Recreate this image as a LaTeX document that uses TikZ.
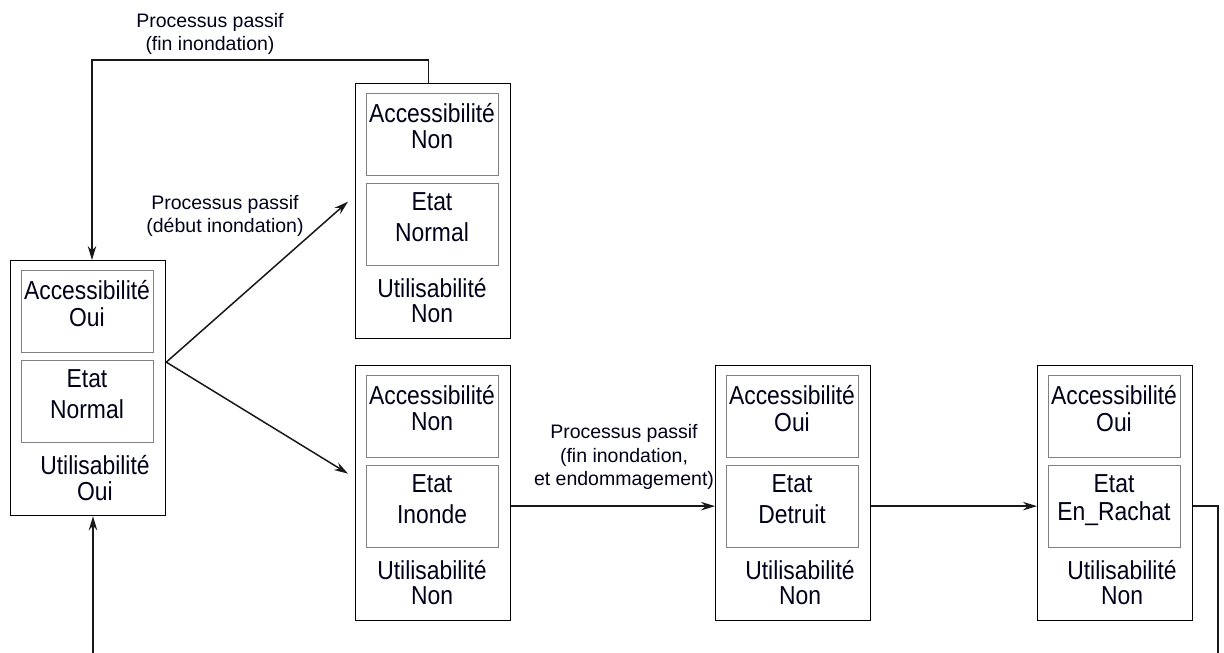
\documentclass[tikz,border=0pt]{standalone}
\usepackage{fontspec}
\setmainfont{Liberation Sans}
\newfontfamily\boxfont{Liberation Sans}[FakeStretch=0.88]
\usetikzlibrary{arrows.meta}

\tikzset{
  outerbox/.style={draw=black, line width=1.3pt, minimum width=155pt, minimum height=255pt, inner sep=0pt, anchor=north west},
  innerbox/.style={draw=black!50, line width=1.4pt, minimum width=132pt, minimum height=82pt, inner sep=0pt, anchor=north west},
  boxtext/.style={font=\boxfont\fontsize{26}{30}\selectfont, text=black!90!blue, inner sep=0pt},
  lbl/.style={font=\fontsize{19.5}{23.5}\selectfont, text=black!90!blue, align=center, inner sep=0pt},
  conn/.style={line width=1.5pt, draw=black!90},
  arr/.style={conn, -{Stealth[length=14pt,width=8.5pt]}}
}

% one state: #1 name, #2 x, #3 y (top-left), #4 accessibility, #5 state,
% #6 usability, #7 horizontal position of the usability lines
\newcommand\statebox[7]{%
  \node[outerbox] (#1) at (#2,#3) {};
  \node[innerbox] (#1acc) at ([xshift=11pt,yshift=-10pt]#1.north west) {};
  \node[innerbox] (#1eta) at ([xshift=11pt,yshift=-100pt]#1.north west) {};
  \node[boxtext] (#1acct) at ([xshift=77pt,yshift=-30pt]#1.north west) {Accessibilité};
  \node[boxtext] (#1accv) at ([xshift=77pt,yshift=-57pt]#1.north west) {#4};
  \node[boxtext] (#1etat) at ([xshift=77pt,yshift=-119pt]#1.north west) {Etat};
  \node[boxtext] (#1etav) at ([xshift=77pt,yshift=-149pt]#1.north west) {#5};
  \node[boxtext] (#1utit) at ([xshift=#7pt,yshift=-205pt]#1.north west) {Utilisabilité};
  \node[boxtext] (#1utiv) at ([xshift=#7pt,yshift=-231pt]#1.north west) {#6};
}

\begin{document}
\begin{tikzpicture}[x=1pt,y=-1pt]
  \useasboundingbox (0,0) rectangle (1224,653);

  \statebox{A}{10}{260}{Oui}{Normal}{Oui}{85}
  \statebox{B}{355}{83}{Non}{Normal}{Non}{77}
  \statebox{C}{355}{365}{Non}{Inonde}{Non}{77}
  \statebox{D}{715}{365}{Oui}{Detruit}{Non}{85}
  \statebox{E}{1037}{365}{Oui}{En\_Rachat}{Non}{85}

  % free ends of the loops
  \coordinate (loop) at (92,60);
  \coordinate (ain) at (93,653);
  \coordinate (eout) at (1218,653);

  % flood ends: back to the initial state
  \draw[arr] ([xshift=-4.5pt]B.north) |- (loop) -- (loop |- A.north);

  % flood starts: two outcomes
  \draw[arr] ([yshift=26pt]A.east) -- ([xshift=-7pt,yshift=9.5pt]B.west);
  \draw[arr] ([yshift=26pt]A.east) -- ([xshift=-7pt,yshift=19.5pt]C.west);

  % damage, then buy-back
  \draw[arr] ([yshift=-13pt]C.east) -- ([yshift=-13pt]D.west);
  \draw[arr] ([yshift=-13pt]D.east) -- ([yshift=-13pt]E.west);
  \draw[conn] ([yshift=-13pt]E.east) -| (eout);
  \draw[arr] (ain) -- (ain |- A.south);

  % transition labels
  \node[lbl] (l1) at (210,34) {Processus passif\\(fin inondation)};
  \node[lbl] (l2) at (225,216) {Processus passif\\(début inondation)};
  \node[lbl] (l3) at (624,457) {Processus passif\\(fin inondation,\\et endommagement)};
\end{tikzpicture}
\end{document}
